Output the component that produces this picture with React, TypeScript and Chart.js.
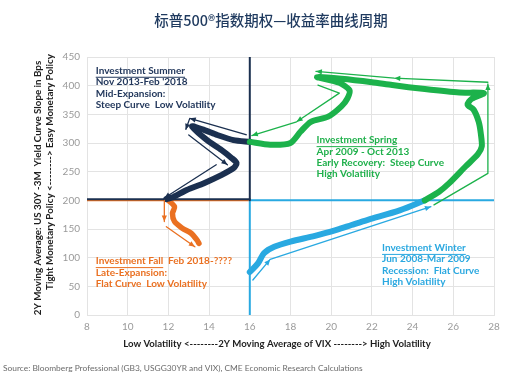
import React, { useEffect, useRef } from "react";
import { Chart, registerables } from "chart.js";

Chart.register(...registerables);

// ---- Data ----
const xTicks = [8, 10, 12, 14, 16, 18, 20, 22, 24, 26, 28];
const yTicks = [0, 50, 100, 150, 200, 250, 300, 350, 400, 450];

const winterX = [16.0, 16.4, 16.7, 17.2, 18.0, 19.2, 20.3, 21.0, 21.8, 23.4, 24.6];
const winterY = [75, 90, 108, 119, 128, 138, 149, 157, 166, 183, 200];

const springX = [24.6, 25.3, 25.8, 26.6, 27.2, 27.4, 27.35, 27.25, 27.0, 26.7, 26.9, 27.5, 26.3, 24.6, 23.0, 22.0, 20.5, 19.3, 20.4, 20.9, 20.8, 20.5, 19.85, 19.0, 18.5, 18.0, 17.0, 16.0];
const springY = [200, 215, 230, 259, 280, 294, 317, 337, 358, 367, 377, 387, 388, 394, 401, 406, 412, 415, 405, 392, 378, 364, 346, 337, 320, 300, 297, 302];

const summerX = [16.0, 15.2, 14.4, 13.75, 13.16, 13.9, 14.6, 15.1, 15.35, 15.2, 14.6, 13.75, 12.9, 12.25, 11.9];
const summerY = [302, 305, 314, 323, 329, 305, 288, 274, 265, 256, 244, 230, 218, 206, 202];

const fallX = [12.0, 12.3, 12.2, 12.3, 12.7, 13.1, 13.4, 13.5];
const fallY = [200, 189, 177, 163, 151, 143, 131, 125];

// arrows
const summerArrow1X = [15.85, 13.05, 12.85];
const summerArrow1Y = [314, 343, 323];
const summerArrow2X = [13.0, 14.9];
const summerArrow2Y = [314, 262];
const summerArrow3X = [14.35, 11.8];
const summerArrow3Y = [262, 204];
const fallArrow1X = [11.8, 11.8];
const fallArrow1Y = [200, 163];
const fallArrow2X = [11.9, 13.3];
const fallArrow2Y = [154, 119];
const winterArrowX = [16.15, 17.0, 24.9];
const winterArrowY = [61, 97, 189];
const springArrow1X = [25.05, 27.7, 27.7];
const springArrow1Y = [192, 247, 403];
const springArrow2X = [27.7, 23.1, 19.25];
const springArrow2Y = [406, 413, 425];
const springArrow3X = [19.35, 20.4, 18.3, 16.1];
const springArrow3Y = [401, 387, 337, 313];

// quadrant lines
const vLineX = [16, 16];
const vUpperY = [200, 450];
const vLowerY = [0, 200];
const hLeftX = [8, 16];
const hRightX = [16, 28];
const hY = [200, 200];
const hNavyY = [202, 202];

const title = "标普500®指数期权—收益率曲线周期";
const yTitle1 = "2Y Moving Average: US 30Y -3M  Yield Curve Slope in Bps";
const yTitle2 = "Tight Monetary Policy <--------> Easy Monetary Policy";
const xTitle = "Low Volatility <--------2Y Moving Average of VIX --------> High Volatility";
const sourceText = "Source: Bloomberg Professional (GB3, USGG30YR and VIX), CME Economic Research Calculations";

const summerText = ["Investment Summer", "Nov 2013-Feb '2018", "Mid-Expansion:", "Steep Curve  Low Volatility"];
const springText = ["Investment Spring", "Apr 2009 - Oct 2013", "Early Recovery:  Steep Curve", "High Volatility"];
const fallText = ["Investment Fall  Feb 2018-????", "Late-Expansion:", "Flat Curve  Low Volatility"];
const winterText = ["Investment Winter", "Jun 2008-Mar 2009", "Recession:  Flat Curve", "High Volatility"];

const NAVY = "#1b3050";
const GREEN = "#1cb24b";
const BLUE = "#29a9e1";
const ORANGE = "#ea7021";

const pts = (xs: number[], ys: number[]) => xs.map((x, i) => ({ x, y: ys[i] }));

function line(xs: number[], ys: number[], color: string, width: number, order: number, extra: any = {}) {
  return {
    data: pts(xs, ys),
    borderColor: color,
    backgroundColor: color,
    borderWidth: width,
    showLine: true,
    pointRadius: 0,
    pointHoverRadius: 0,
    fill: false,
    order,
    borderCapStyle: "round",
    borderJoinStyle: "round",
    ...extra,
  };
}

const arrowPlugin = {
  id: "arrowheads",
  afterDatasetsDraw(chart: any) {
    const ctx = chart.ctx;
    chart.data.datasets.forEach((ds: any, di: number) => {
      if (!ds.heads) return;
      const meta = chart.getDatasetMeta(di);
      ds.heads.forEach((i: number) => {
        const p = meta.data[i];
        const q = meta.data[i - 1];
        if (!p || !q) return;
        const ang = Math.atan2(p.y - q.y, p.x - q.x);
        const L = 6, W = 2.6;
        ctx.save();
        ctx.fillStyle = ds.borderColor;
        ctx.beginPath();
        ctx.moveTo(p.x, p.y);
        ctx.lineTo(p.x - L * Math.cos(ang) + W * Math.sin(ang), p.y - L * Math.sin(ang) - W * Math.cos(ang));
        ctx.lineTo(p.x - L * Math.cos(ang) - W * Math.sin(ang), p.y - L * Math.sin(ang) + W * Math.cos(ang));
        ctx.closePath();
        ctx.fill();
        ctx.restore();
      });
    });
  },
};

const FONT = "Lato, 'Noto Sans', sans-serif";

const textPlugin = {
  id: "texts",
  afterDraw(chart: any) {
    const ctx = chart.ctx;
    const xs = chart.scales.x;
    const ys = chart.scales.y;
    ctx.save();
    // title
    ctx.fillStyle = "#1f3a5f";
    ctx.font = "500 14.5px 'Noto Sans CJK SC', sans-serif";
    ctx.textAlign = "center";
    ctx.textBaseline = "middle";
    ctx.fillText(title, 271, 20);

    // y titles
    ctx.fillStyle = "#1e1e1e";
    ctx.font = `bold 9.8px ${FONT}`;
    ctx.save();
    ctx.translate(38, 188);
    ctx.rotate(-Math.PI / 2);
    ctx.fillText(yTitle1, 0, 0);
    ctx.restore();
    ctx.save();
    ctx.translate(50, 172);
    ctx.rotate(-Math.PI / 2);
    ctx.fillText(yTitle2, 0, 0);
    ctx.restore();

    // x title
    ctx.font = `bold 9.6px ${FONT}`;
    ctx.fillText(xTitle, 277, 344);

    // source
    ctx.textAlign = "left";
    ctx.fillStyle = "#6b6b6b";
    ctx.font = `8.4px ${FONT}`;
    ctx.fillText(sourceText, 3, 368);

    const block = (lines: string[], vx: number, vy: number, color: string, ulLen: number) => {
      const px = xs.getPixelForValue(vx);
      const py = ys.getPixelForValue(vy);
      ctx.fillStyle = color;
      ctx.strokeStyle = color;
      ctx.font = `bold 10px ${FONT}`;
      ctx.textAlign = "left";
      ctx.textBaseline = "middle";
      lines.forEach((t, i) => {
        ctx.fillText(t, px, py + i * 11.3);
      });
      const w = ctx.measureText(lines[0].slice(0, ulLen)).width;
      ctx.lineWidth = 1;
      ctx.beginPath();
      ctx.moveTo(px, py + 6.5);
      ctx.lineTo(px + w, py + 6.5);
      ctx.stroke();
    };
    block(summerText, 8.43, 426, "#23385c", summerText[0].length);
    block(springText, 19.28, 305, "#1fb04b", springText[0].length);
    block(fallText, 8.43, 94, ORANGE, "Investment Fall".length);
    block(winterText, 22.5, 117, "#2aa8e0", winterText[0].length);
    ctx.restore();
  },
};

export default function App() {
  const ref = useRef<HTMLCanvasElement>(null);
  useEffect(() => {
    document.body.style.margin = "0";
    const canvas = ref.current!;
    const chart = new Chart(canvas, {
      type: "scatter",
      data: {
        datasets: [
          line(vLineX, vUpperY, NAVY, 2, 20),
          line(vLineX, vLowerY, BLUE, 2, 20),
          line(hLeftX, hY, ORANGE, 2, 21),
          line(hLeftX, hNavyY, NAVY, 2, 20),
          line(hRightX, hY, BLUE, 2, 20),
          line(winterX, winterY, BLUE, 6, 10, { tension: 0.3 }),
          line(springX, springY, GREEN, 6, 9, { tension: 0.25 }),
          line(summerX, summerY, NAVY, 6, 10, { tension: 0.25 }),
          line(fallX, fallY, ORANGE, 5.5, 10, { tension: 0.3 }),
          line(summerArrow1X, summerArrow1Y, NAVY, 1.3, 1, { heads: [1, 2], borderCapStyle: "butt" }),
          line(summerArrow2X, summerArrow2Y, NAVY, 1.3, 1, { heads: [1] }),
          line(summerArrow3X, summerArrow3Y, NAVY, 1.3, 1, { heads: [1] }),
          line(fallArrow1X, fallArrow1Y, ORANGE, 1.3, 1, { heads: [1] }),
          line(fallArrow2X, fallArrow2Y, ORANGE, 1.3, 1, { heads: [1] }),
          line(winterArrowX, winterArrowY, BLUE, 1.3, 1, { heads: [1, 2] }),
          line(springArrow1X, springArrow1Y, GREEN, 1.3, 1, { heads: [2] }),
          line(springArrow2X, springArrow2Y, GREEN, 1.3, 1, { heads: [1, 2] }),
          line(springArrow3X, springArrow3Y, GREEN, 1.3, 1, { heads: [2, 3] }),
        ] as any,
      },
      options: {
        animation: false,
        responsive: false,
        devicePixelRatio: 1,
        layout: { padding: { left: 0, right: 14, top: 57, bottom: 44 } },
        plugins: {
          legend: { display: false },
          tooltip: { enabled: false },
          title: { display: false },
        },
        scales: {
          x: {
            type: "linear",
            min: 8,
            max: 28,
            afterBuildTicks: (s: any) => {
              s.ticks = xTicks.map((v) => ({ value: v }));
            },
            afterFit: (s: any) => {
              s.height = 20;
            },
            grid: { color: "#e3e3e3", drawTicks: false, lineWidth: 1 },
            border: { color: "#e3e3e3" },
            ticks: { color: "#9a9a9a", font: { family: FONT, size: 10 }, padding: 6 },
          },
          y: {
            type: "linear",
            min: 0,
            max: 450,
            afterBuildTicks: (s: any) => {
              s.ticks = yTicks.map((v) => ({ value: v }));
            },
            afterFit: (s: any) => {
              s.width = 87;
            },
            grid: { color: "#e3e3e3", drawTicks: false, lineWidth: 1 },
            border: { color: "#e3e3e3" },
            ticks: { color: "#9a9a9a", font: { family: FONT, size: 10 }, padding: 7 },
          },
        },
      } as any,
      plugins: [arrowPlugin, textPlugin],
    });
    return () => chart.destroy();
  }, []);
  return (
    <div style={{ width: 508, height: 379, background: "#fff" }}>
      <canvas ref={ref} width={508} height={379} style={{ display: "block" }} />
    </div>
  );
}
